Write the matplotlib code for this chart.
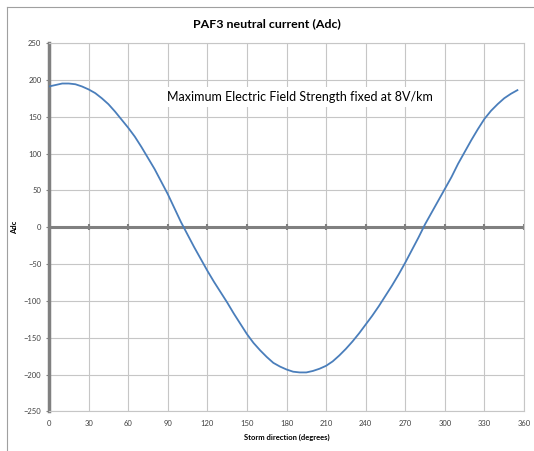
import numpy as np
import matplotlib
matplotlib.use("Agg")
import matplotlib.pyplot as plt
from matplotlib.lines import Line2D

# storm direction (degrees) and neutral current (Adc)
direction = list(range(0, 360, 5))
current = [191, 193, 195, 195, 194, 191, 187, 182, 175, 167,
           157, 146, 135, 123, 109, 94, 79, 62, 45, 26,
           7, -10, -27, -43, -59, -74, -88, -102, -117, -131,
           -145, -157, -167, -176, -184, -189, -193, -196, -197, -197,
           -195, -192, -188, -182, -174, -165, -155, -144, -132, -120,
           -107, -93, -79, -64, -48, -31, -14, 4, 20, 36,
           52, 68, 86, 102, 118, 133, 147, 158, 167, 175,
           181, 186]
xticks = list(range(0, 361, 30))
yticks = list(range(-250, 251, 50))

plt.rcParams['font.family'] = ['Lato', 'DejaVu Sans']

fig = plt.figure(figsize=(5.34, 4.51), dpi=100)
ax = fig.add_axes([0.0918, 0.0876, 0.8895, 0.8171])

ax.plot(direction, current, color="#4a7ebb", linewidth=1.3, zorder=3)

ax.set_xlim(0, 360)
ax.set_ylim(-250, 250)
ax.set_xticks(xticks)
ax.set_yticks(yticks)
ax.grid(True, color="#c6c6c6", linewidth=0.8)
ax.set_axisbelow(True)

# thick zero line with small tick marks
ax.axhline(0, color="#808080", linewidth=2.2, zorder=2)
ax.plot(xticks, [0] * len(xticks), linestyle="none", marker="|",
        markersize=4, color="#808080", markeredgewidth=1.5, zorder=2)

for side in ["top", "right", "bottom"]:
    ax.spines[side].set_color("#c6c6c6")
    ax.spines[side].set_linewidth(0.8)
ax.spines["left"].set_color("#808080")
ax.spines["left"].set_linewidth(2.5)

ax.tick_params(axis="x", length=0, labelsize=5.5, colors="#404040", pad=6)
ax.tick_params(axis="y", length=2.5, width=0.8, color="#808080",
               labelsize=5.5, labelcolor="#404040", pad=3)

ax.set_xlabel("Storm direction (degrees)", fontsize=5.5, fontweight="bold", labelpad=5)
ax.set_ylabel("Adc", fontsize=5.5, fontweight="bold", labelpad=4)

fig.text(0.5, 0.947, "PAF3 neutral current (Adc)", ha="center", va="center",
         fontsize=8.9, fontweight="bold")
ax.text(0.528, 0.853, "Maximum Electric Field Strength fixed at 8V/km",
        transform=ax.transAxes, ha="center", va="center", fontsize=9,
        bbox=dict(facecolor="white", edgecolor="none", pad=3), zorder=4)

# outer frame lines (left and top)
fig.add_artist(Line2D([7 / 534, 7 / 534], [0, 1 - 7 / 451], color="#a0a0a0", linewidth=0.8))
fig.add_artist(Line2D([7 / 534, 1], [1 - 7 / 451, 1 - 7 / 451], color="#a0a0a0", linewidth=0.8))

fig.savefig("out.png", dpi=100)
